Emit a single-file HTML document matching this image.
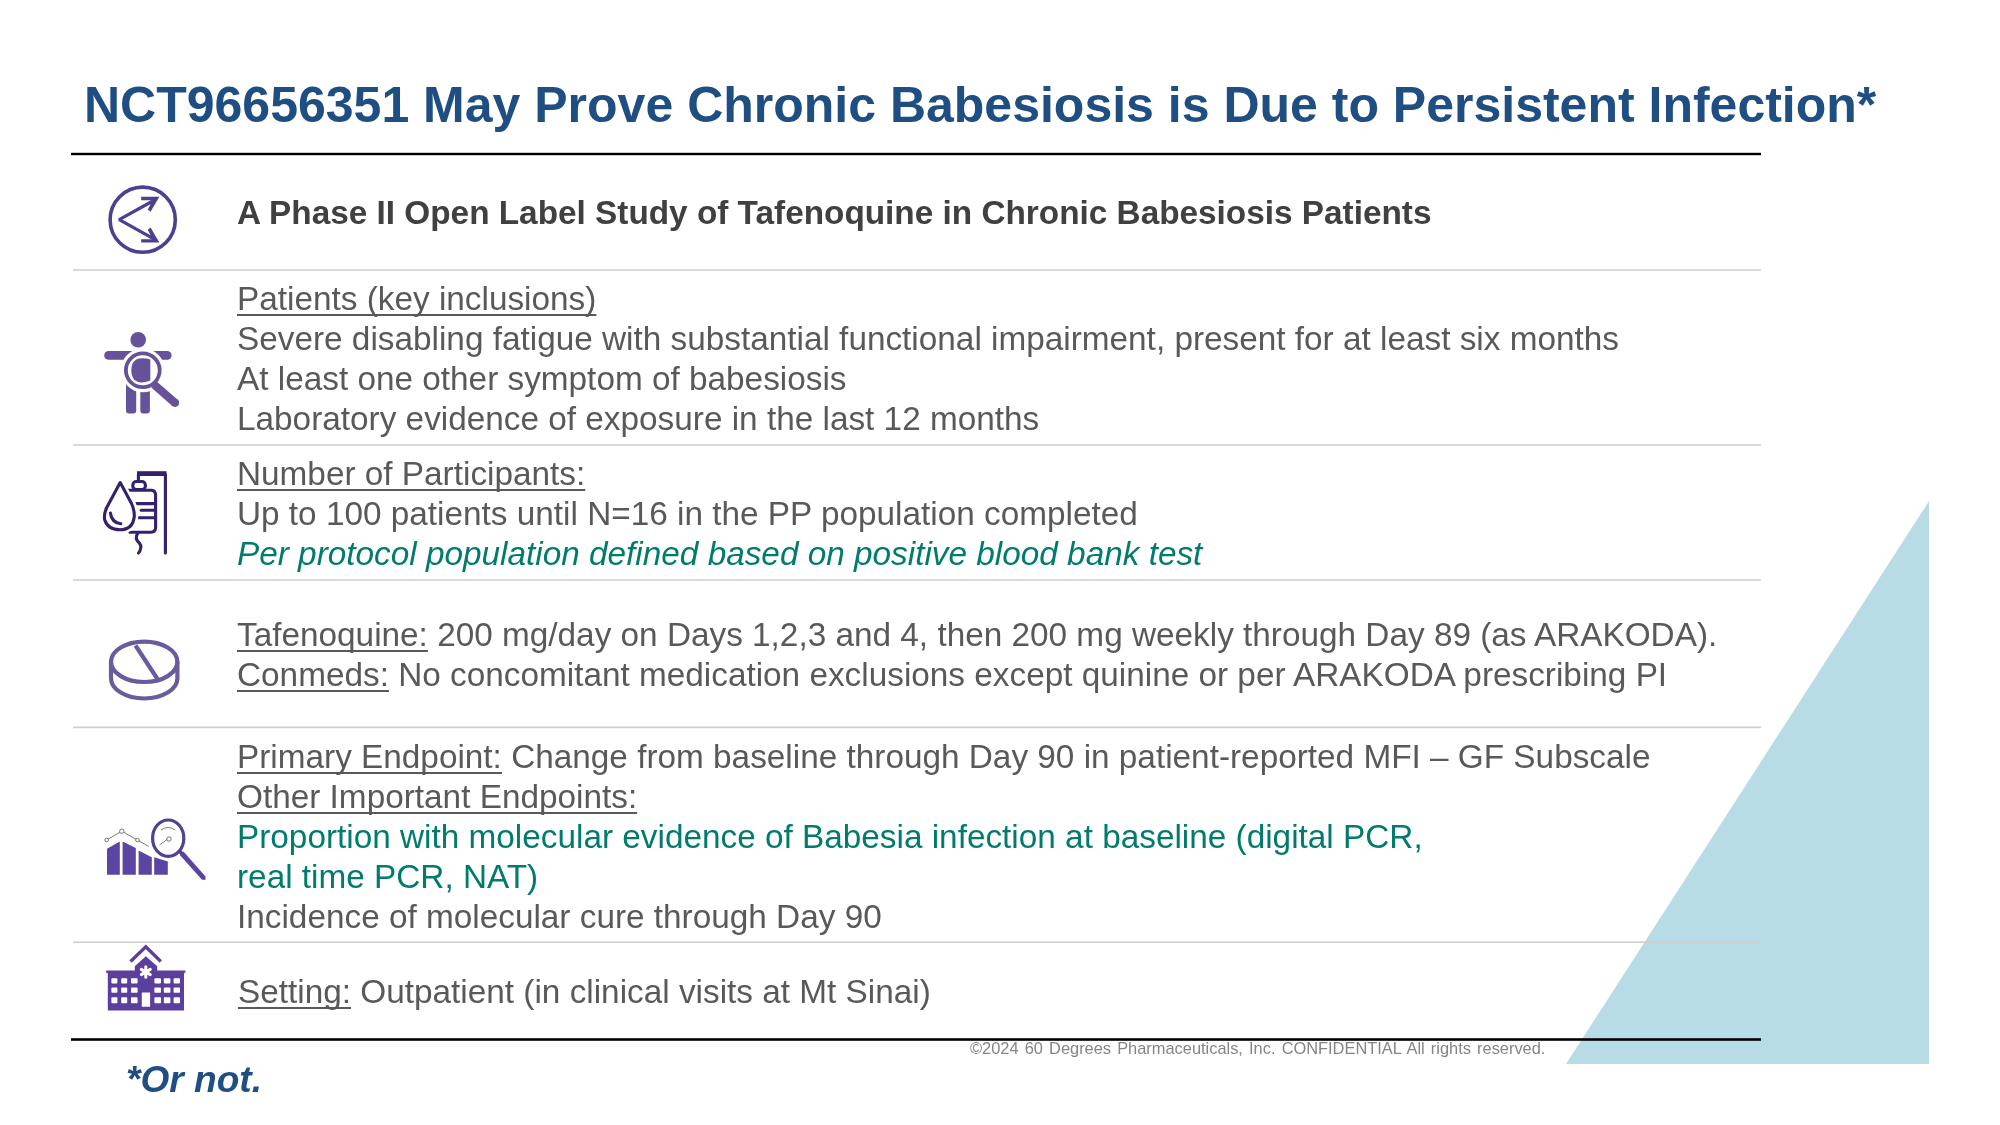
<!DOCTYPE html>
<html><head><meta charset="utf-8"><style>
html,body{margin:0;padding:0;background:#fff;}
body{width:2000px;height:1125px;position:relative;overflow:hidden;font-family:"Liberation Sans",sans-serif;}
.t{position:absolute;white-space:pre;will-change:transform;}
.t u{text-decoration-thickness:2.4px;text-underline-offset:4px;text-decoration-skip-ink:none;}
.ln{position:absolute;}
</style></head><body>
<svg width="2000" height="1125" style="position:absolute;left:0;top:0">
<polygon points="1929,501 1929,1064 1566,1064" fill="#b8dce6"/>
<rect x="71" y="152.8" width="1690" height="2.4" fill="#000"/>
<rect x="73" y="269" width="1688" height="2" fill="#d9d9d9"/>
<rect x="73" y="444" width="1688" height="2" fill="#d9d9d9"/>
<rect x="73" y="579" width="1688" height="2" fill="#d9d9d9"/>
<rect x="73" y="726.5" width="1688" height="1.7" fill="#cdcdcd"/>
<rect x="73" y="941.4" width="1688" height="1.7" fill="#cfcfcf"/>
<rect x="71" y="1038.2" width="1690" height="2.6" fill="#000"/>
<!-- icon1: circle arrows -->
<g fill="none" stroke="#4e3f8f" stroke-width="3.6">
<circle cx="142.7" cy="219.7" r="32.6"/>
<polyline points="156.5,199 119.2,219.6 156.5,240.4" stroke-width="3.3" stroke-linejoin="bevel"/>
</g>
<g fill="#4e3f8f">
<polygon points="159.2,196.8 141.2,196.8 141.2,200.2 152.6,200.2 147.8,209.6 150.6,211.8"/>
<polygon points="159.2,196.8 149.5,202 153,206.5"/>
<polygon points="159.2,242.5 141.2,242.5 141.2,239.2 152.6,239.2 147.8,229.8 150.6,227.6"/>
<polygon points="159.2,242.5 149.5,237.4 153,232.9"/>
</g>
<!-- icon2: person with magnifier -->
<g fill="#65529a">
<circle cx="138.2" cy="339.8" r="7.8"/>
<rect x="104.2" y="351" width="67.4" height="8.8" rx="4.4"/>
<rect x="126" y="380" width="10.2" height="33.5" rx="3"/>
<rect x="140.3" y="380" width="9.6" height="33.5" rx="3"/>
</g>
<circle cx="142.8" cy="370.3" r="22" fill="#fff"/>
<line x1="155" y1="385.5" x2="176.5" y2="404" stroke="#fff" stroke-width="12"/>
<circle cx="142.8" cy="370.3" r="16.9" fill="none" stroke="#65529a" stroke-width="3.8"/>
<path d="M150.3,359.5 L150.3,380.5 Q146,382.5 141.5,382.5 Q131.3,382 131.3,370 Q131.5,358.5 142,358.3 Q147,358.3 150.3,359.5 Z" fill="#65529a"/>
<line x1="154" y1="384.5" x2="175" y2="402.8" stroke="#65529a" stroke-width="8.2"/>
<circle cx="175" cy="402.8" r="4.1" fill="#65529a"/>
<!-- icon3: IV blood bag -->
<g fill="none" stroke="#35206e" stroke-width="3.1" stroke-linejoin="round" stroke-linecap="round">
<path d="M138.4,481 L138.4,474.5 L165.4,474.5 L165.4,553"/>
<path d="M137,473.4 L166.5,473.4" stroke-width="4.4" stroke-linecap="butt"/>
<rect x="132.8" y="481.5" width="12.6" height="8" rx="3.5"/>
<path d="M128,490.2 L151.5,490.2 Q155.5,490.5 155.6,495 L155.6,527.5 Q155.5,532.2 151,532.2 L130,532.2"/>
<line x1="133.5" y1="503.6" x2="155" y2="503.6"/>
<line x1="141.2" y1="510.3" x2="155" y2="510.3"/>
<line x1="136" y1="517.8" x2="155" y2="517.8"/>
<path d="M137.8,533 Q135,538 137.5,541 Q142,545 140.5,549 Q140,551.5 138.5,553"/>
</g>
<path d="M120.2,482 L106,508 Q102.5,515 104,520 Q107.5,530 120,530.2 Q133,530 134.8,517 Q135.5,511 132,503 Z" fill="#fff" stroke="#fff" stroke-width="7"/>
<g fill="none" stroke="#35206e" stroke-width="3.1" stroke-linejoin="round" stroke-linecap="round">
<path d="M120.2,482.5 L106.5,508 Q103.8,514 104.6,519.5 Q107.5,529.5 120,529.8 Q132.8,529.5 134.2,517 Q134.8,511 131.5,503.5 Z"/>
<path d="M110.4,513 Q111.5,522.5 120.8,523.8"/>
</g>
<!-- icon4: pill -->
<g fill="none" stroke="#6a5a9e" stroke-width="4.2">
<ellipse cx="144.2" cy="661.8" rx="33.2" ry="20.2"/>
<path d="M111,661.8 L111,678.2 A33.2,20.3 0 0 0 177.4,678.2 L177.4,661.8"/>
<line x1="135.5" y1="645.5" x2="157.5" y2="679"/>
</g>
<!-- icon5: chart + magnifier -->
<g fill="#5a45a3">
<polygon points="107,848.8 119.8,841.6 119.8,874.8 107,874.8"/>
<polygon points="122.6,841.6 135.8,848 135.8,874.8 122.6,874.8"/>
<polygon points="138.6,850.4 151.8,857.2 151.8,874.8 138.6,874.8"/>
<polygon points="154.2,857.2 167.8,861.6 167.8,874.8 154.2,874.8"/>
</g>
<g fill="none" stroke="#6a6a6a" stroke-width="0.9">
<polyline points="106.6,840 121.8,831.2 137.4,840 148.6,846.4"/>
<circle cx="106.6" cy="840" r="1.8" fill="#fff"/>
<circle cx="121.8" cy="831.2" r="2.2" fill="#fff"/>
<circle cx="137.4" cy="840" r="1.8" fill="#fff"/>
<path d="M161,830 Q168,825 175,830"/>
<line x1="159.5" y1="845" x2="167" y2="839.5"/>
<circle cx="169" cy="839" r="2.2" fill="#fff"/>
</g>
<ellipse cx="168.2" cy="838.2" rx="15.6" ry="18.2" fill="none" stroke="#52418f" stroke-width="3.2"/>
<line x1="179.5" y1="851" x2="183" y2="855" stroke="#52418f" stroke-width="3.5"/>
<polygon points="183.5,851.5 205.5,876.5 205.5,879.8 202,879.8 179.8,855" fill="#5a45a3"/>
<!-- icon6: hospital -->
<g fill="#5a3f9e">
<polyline points="130.5,961.5 145.8,946.8 160.8,961.5" fill="none" stroke="#5a3f9e" stroke-width="3.3"/>
<polygon points="145.8,956.2 134.8,966.3 134.8,971 157.2,971 157.2,966.3"/>
<rect x="106.2" y="970.5" width="79.2" height="2.4"/>
<rect x="107.8" y="971.5" width="76.2" height="39"/>
</g>
<g fill="#fff">
<rect x="111.4" y="978.2" width="6" height="5.2" rx="0.8"/>
<rect x="121.2" y="978.2" width="6" height="5.2" rx="0.8"/>
<rect x="131" y="978.2" width="6.6" height="5.2" rx="0.8"/>
<rect x="154.4" y="978.2" width="6.6" height="5.2" rx="0.8"/>
<rect x="163.8" y="978.2" width="6.6" height="5.2" rx="0.8"/>
<rect x="173.6" y="978.2" width="6.4" height="5.2" rx="0.8"/>
<rect x="111.4" y="987.6" width="6" height="5.2" rx="0.8"/>
<rect x="121.2" y="987.6" width="6" height="5.2" rx="0.8"/>
<rect x="131" y="987.6" width="6.6" height="5.2" rx="0.8"/>
<rect x="154.4" y="987.6" width="6.6" height="5.2" rx="0.8"/>
<rect x="163.8" y="987.6" width="6.6" height="5.2" rx="0.8"/>
<rect x="173.6" y="987.6" width="6.4" height="5.2" rx="0.8"/>
<rect x="111.4" y="997.2" width="6" height="6" rx="0.8"/>
<rect x="121.2" y="997.2" width="6" height="6" rx="0.8"/>
<rect x="131" y="997.2" width="6.6" height="6" rx="0.8"/>
<rect x="154.4" y="997.2" width="6.6" height="6" rx="0.8"/>
<rect x="163.8" y="997.2" width="6.6" height="6" rx="0.8"/>
<rect x="173.6" y="997.2" width="6.4" height="6" rx="0.8"/>
<rect x="141.8" y="992.4" width="8.3" height="14.3" rx="0.5"/>
</g>
<circle cx="145.8" cy="972" r="3.2" fill="#fff"/>
<g stroke="#fff" stroke-width="3" stroke-linecap="round">
<line x1="145.8" y1="966.8" x2="145.8" y2="977.2"/>
<line x1="141.3" y1="969.4" x2="150.3" y2="974.6"/>
<line x1="141.3" y1="974.6" x2="150.3" y2="969.4"/>
</g>

</svg>
<div class="t" style="left:83.8px;top:74.67px;font-size:50px;line-height:60px;color:#1f4e82;font-weight:bold">NCT96656351 May Prove Chronic Babesiosis is Due to Persistent Infection*</div><div class="t" style="left:237px;top:193.05px;font-size:33.33px;line-height:40px;color:#404040;font-weight:bold">A Phase II Open Label Study of Tafenoquine in Chronic Babesiosis Patients</div><div class="t" style="left:237px;top:279.25px;font-size:33.33px;line-height:40px;color:#595959;"><u>Patients (key inclusions)</u></div><div class="t" style="left:237px;top:319.15px;font-size:33.33px;line-height:40px;color:#595959;">Severe disabling fatigue with substantial functional impairment, present for at least six months</div><div class="t" style="left:237px;top:359.15px;font-size:33.33px;line-height:40px;color:#595959;">At least one other symptom of babesiosis</div><div class="t" style="left:237px;top:399.05px;font-size:33.33px;line-height:40px;color:#595959;">Laboratory evidence of exposure in the last 12 months</div><div class="t" style="left:237px;top:454.25px;font-size:33.33px;line-height:40px;color:#595959;"><u>Number of Participants:</u></div><div class="t" style="left:237px;top:494.35px;font-size:33.33px;line-height:40px;color:#595959;">Up to 100 patients until N=16 in the PP population completed</div><div class="t" style="left:237px;top:534.15px;font-size:33.33px;line-height:40px;color:#007b6c;font-style:italic">Per protocol population defined based on positive blood bank test</div><div class="t" style="left:237px;top:615.25px;font-size:33.33px;line-height:40px;color:#595959;"><u>Tafenoquine:</u> 200 mg/day on Days 1,2,3 and 4, then 200 mg weekly through Day 89 (as ARAKODA).</div><div class="t" style="left:237px;top:655.35px;font-size:33.33px;line-height:40px;color:#595959;"><u>Conmeds:</u> No concomitant medication exclusions except quinine or per ARAKODA prescribing PI</div><div class="t" style="left:237px;top:736.85px;font-size:33.33px;line-height:40px;color:#595959;"><u>Primary Endpoint:</u> Change from baseline through Day 90 in patient-reported MFI – GF Subscale</div><div class="t" style="left:237px;top:776.75px;font-size:33.33px;line-height:40px;color:#595959;"><u>Other Important Endpoints:</u></div><div class="t" style="left:237px;top:816.75px;font-size:33.33px;line-height:40px;color:#007b6c;">Proportion with molecular evidence of Babesia infection at baseline (digital PCR,</div><div class="t" style="left:237px;top:856.75px;font-size:33.33px;line-height:40px;color:#007b6c;">real time PCR, NAT)</div><div class="t" style="left:237px;top:896.75px;font-size:33.33px;line-height:40px;color:#595959;">Incidence of molecular cure through Day 90</div><div class="t" style="left:237.5px;top:972.25px;font-size:33.33px;line-height:40px;color:#595959;"><u>Setting:</u> Outpatient (in clinical visits at Mt Sinai)</div><div class="t" style="left:969.5px;top:1037.92px;font-size:16.4px;line-height:20px;color:#858585;word-spacing:1.6px">©2024 60 Degrees Pharmaceuticals, Inc. CONFIDENTIAL All rights reserved.</div><div class="t" style="left:126.2px;top:1056.64px;font-size:37.1px;line-height:44px;color:#1f4e82;font-weight:bold;font-style:italic">*Or not.</div>
</body></html>
